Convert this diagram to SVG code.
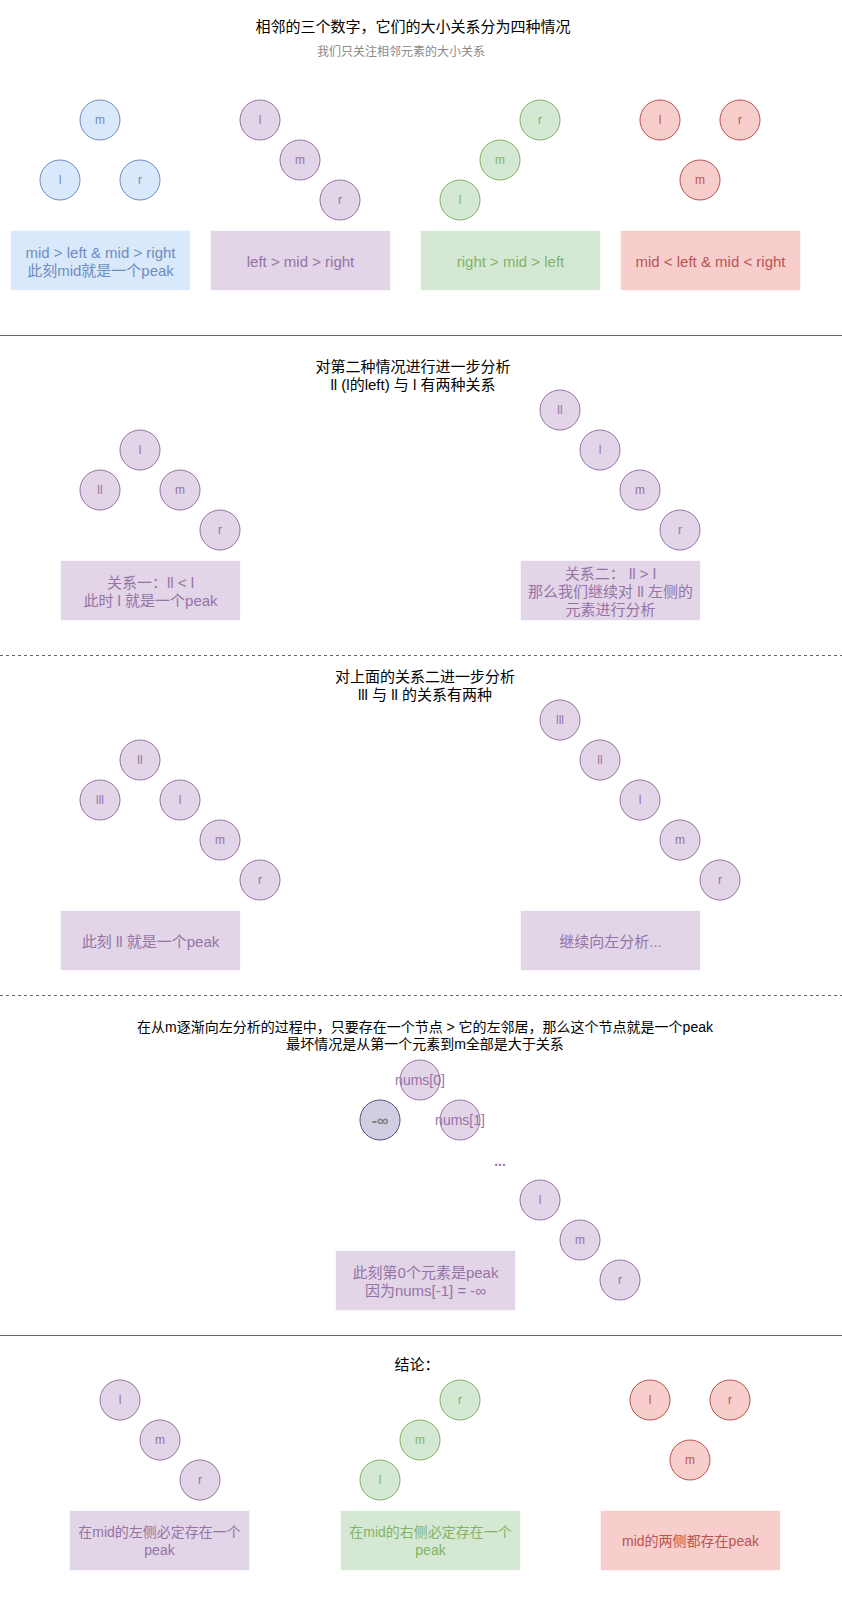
<svg xmlns="http://www.w3.org/2000/svg" width="842" height="1615" viewBox="0 0 842 1615">
<style>
text{font-family:"Liberation Sans",Arial,"Noto Sans CJK SC",sans-serif;text-anchor:middle;dominant-baseline:central}
.t{font-size:15px;fill:#000}
.t14{font-size:14px;fill:#000}
.sub{font-size:12px;fill:#8a8a8a}
.c{font-size:12px}
.bt{font-size:15px}
.bt14{font-size:14px}
.blue circle,.blue rect{fill:#dae8fc}.blue circle{stroke:#6c8ebf}.blue text{fill:#6c8ebf}
.pur circle,.pur rect{fill:#e1d5e7}.pur circle{stroke:#9673a6}.pur text{fill:#9673a6}
.grn circle,.grn rect{fill:#d5e8d4}.grn circle{stroke:#82b366}.grn text{fill:#82b366}
.red circle,.red rect{fill:#f8cecc}.red circle{stroke:#b85450}.red text{fill:#b85450}
.inf circle{fill:#d0cee2;stroke:#56517e}.inf text{fill:#808080;font-weight:bold;font-size:16px}
rect{stroke:#ffffff;stroke-opacity:0.6;stroke-width:1}
circle{stroke-width:1}
.sep{stroke:#666;stroke-width:1}
.dash{stroke:#666;stroke-width:1;stroke-dasharray:3 3}
</style>

<g id="connectors">
<line class="sep" x1="0" y1="335.5" x2="842" y2="335.5"/>
<line class="dash" x1="0" y1="655.5" x2="842" y2="655.5"/>
<line class="dash" x1="0" y1="995.5" x2="842" y2="995.5"/>
<line class="sep" x1="0" y1="1335.5" x2="842" y2="1335.5"/>
</g>

<!-- Section 1 -->
<g id="title1"><text class="t" x="413" y="26">相邻的三个数字，它们的大小关系分为四种情况</text></g>
<g id="subtitle1"><text class="sub" x="401" y="52">我们只关注相邻元素的大小关系</text></g>

<g class="blue">
<g id="s1a-m"><circle cx="100" cy="120" r="20"/><text class="c" x="100" y="120">m</text></g>
<g id="s1a-l"><circle cx="60" cy="180" r="20"/><text class="c" x="60" y="180">l</text></g>
<g id="s1a-r"><circle cx="140" cy="180" r="20"/><text class="c" x="140" y="180">r</text></g>
<g id="s1a-box"><rect x="10.5" y="230.5" width="180" height="60"/><text class="bt" x="100.5" y="252">mid &gt; left &amp; mid &gt; right</text><text class="bt" x="100.5" y="270">此刻mid就是一个peak</text></g>
</g>

<g class="pur">
<g id="s1b-l"><circle cx="260" cy="120" r="20"/><text class="c" x="260" y="120">l</text></g>
<g id="s1b-m"><circle cx="300" cy="160" r="20"/><text class="c" x="300" y="160">m</text></g>
<g id="s1b-r"><circle cx="340" cy="200" r="20"/><text class="c" x="340" y="200">r</text></g>
<g id="s1b-box"><rect x="210.5" y="230.5" width="180" height="60"/><text class="bt" x="300.5" y="261">left &gt; mid &gt; right</text></g>
</g>

<g class="grn">
<g id="s1c-r"><circle cx="540" cy="120" r="20"/><text class="c" x="540" y="120">r</text></g>
<g id="s1c-m"><circle cx="500" cy="160" r="20"/><text class="c" x="500" y="160">m</text></g>
<g id="s1c-l"><circle cx="460" cy="200" r="20"/><text class="c" x="460" y="200">l</text></g>
<g id="s1c-box"><rect x="420.5" y="230.5" width="180" height="60"/><text class="bt" x="510.5" y="261">right &gt; mid &gt; left</text></g>
</g>

<g class="red">
<g id="s1d-l"><circle cx="660" cy="120" r="20"/><text class="c" x="660" y="120">l</text></g>
<g id="s1d-r"><circle cx="740" cy="120" r="20"/><text class="c" x="740" y="120">r</text></g>
<g id="s1d-m"><circle cx="700" cy="180" r="20"/><text class="c" x="700" y="180">m</text></g>
<g id="s1d-box"><rect x="620.5" y="230.5" width="180" height="60"/><text class="bt" x="710.5" y="261">mid &lt; left &amp; mid &lt; right</text></g>
</g>

<!-- Section 2 -->
<g id="title2"><text class="t" x="413" y="366.5">对第二种情况进行进一步分析</text><text class="t" x="413" y="384.5">ll (l的left) 与 l 有两种关系</text></g>

<g class="pur">
<g id="s2a-l"><circle cx="140" cy="450" r="20"/><text class="c" x="140" y="450">l</text></g>
<g id="s2a-ll"><circle cx="100" cy="490" r="20"/><text class="c" x="100" y="490">ll</text></g>
<g id="s2a-m"><circle cx="180" cy="490" r="20"/><text class="c" x="180" y="490">m</text></g>
<g id="s2a-r"><circle cx="220" cy="530" r="20"/><text class="c" x="220" y="530">r</text></g>
<g id="s2a-box"><rect x="60.5" y="560.5" width="180" height="60"/><text class="bt" x="150.5" y="582">关系一：ll &lt; l</text><text class="bt" x="150.5" y="600">此时 l 就是一个peak</text></g>

<g id="s2b-ll"><circle cx="560" cy="410" r="20"/><text class="c" x="560" y="410">ll</text></g>
<g id="s2b-l"><circle cx="600" cy="450" r="20"/><text class="c" x="600" y="450">l</text></g>
<g id="s2b-m"><circle cx="640" cy="490" r="20"/><text class="c" x="640" y="490">m</text></g>
<g id="s2b-r"><circle cx="680" cy="530" r="20"/><text class="c" x="680" y="530">r</text></g>
<g id="s2b-box"><rect x="520.5" y="560.5" width="180" height="60"/><text class="bt" x="610.5" y="573">关系二： ll &gt; l</text><text class="bt" x="610.5" y="591">那么我们继续对 ll 左侧的</text><text class="bt" x="610.5" y="609">元素进行分析</text></g>
</g>

<!-- Section 3 -->
<g id="title3"><text class="t" x="425" y="676.5">对上面的关系二进一步分析</text><text class="t" x="425" y="694.5">lll 与 ll 的关系有两种</text></g>

<g class="pur">
<g id="s3a-ll"><circle cx="140" cy="760" r="20"/><text class="c" x="140" y="760">ll</text></g>
<g id="s3a-lll"><circle cx="100" cy="800" r="20"/><text class="c" x="100" y="800">lll</text></g>
<g id="s3a-l"><circle cx="180" cy="800" r="20"/><text class="c" x="180" y="800">l</text></g>
<g id="s3a-m"><circle cx="220" cy="840" r="20"/><text class="c" x="220" y="840">m</text></g>
<g id="s3a-r"><circle cx="260" cy="880" r="20"/><text class="c" x="260" y="880">r</text></g>
<g id="s3a-box"><rect x="60.5" y="910.5" width="180" height="60"/><text class="bt" x="150.5" y="941">此刻 ll 就是一个peak</text></g>

<g id="s3b-lll"><circle cx="560" cy="720" r="20"/><text class="c" x="560" y="720">lll</text></g>
<g id="s3b-ll"><circle cx="600" cy="760" r="20"/><text class="c" x="600" y="760">ll</text></g>
<g id="s3b-l"><circle cx="640" cy="800" r="20"/><text class="c" x="640" y="800">l</text></g>
<g id="s3b-m"><circle cx="680" cy="840" r="20"/><text class="c" x="680" y="840">m</text></g>
<g id="s3b-r"><circle cx="720" cy="880" r="20"/><text class="c" x="720" y="880">r</text></g>
<g id="s3b-box"><rect x="520.5" y="910.5" width="180" height="60"/><text class="bt" x="610.5" y="941">继续向左分析...</text></g>
</g>

<!-- Section 4 -->
<g id="title4"><text class="t14" x="425" y="1026.5">在从m逐渐向左分析的过程中，只要存在一个节点 &gt; 它的左邻居，那么这个节点就是一个peak</text><text class="t14" x="425" y="1043.5">最坏情况是从第一个元素到m全部是大于关系</text></g>

<g class="inf" id="s4-inf"><circle cx="380" cy="1120" r="20"/><text x="380" y="1120">-∞</text></g>
<g class="pur">
<g id="s4-n0"><circle cx="420" cy="1080" r="20"/><text class="bt14" x="420" y="1080">nums[0]</text></g>
<g id="s4-n1"><circle cx="460" cy="1120" r="20"/><text class="bt14" x="460" y="1120">nums[1]</text></g>
<g id="s4-dots"><text class="bt14" x="500" y="1161" font-weight="bold">...</text></g>
<g id="s4-l"><circle cx="540" cy="1200" r="20"/><text class="c" x="540" y="1200">l</text></g>
<g id="s4-m"><circle cx="580" cy="1240" r="20"/><text class="c" x="580" y="1240">m</text></g>
<g id="s4-r"><circle cx="620" cy="1280" r="20"/><text class="c" x="620" y="1280">r</text></g>
<g id="s4-box"><rect x="335.5" y="1250.5" width="180" height="60"/><text class="bt" x="425.5" y="1272">此刻第0个元素是peak</text><text class="bt" x="425.5" y="1290">因为nums[-1] = -∞</text></g>
</g>

<!-- Section 5 -->
<g id="title5"><text class="t" x="417" y="1364">结论：</text></g>

<g class="pur">
<g id="s5a-l"><circle cx="120" cy="1400" r="20"/><text class="c" x="120" y="1400">l</text></g>
<g id="s5a-m"><circle cx="160" cy="1440" r="20"/><text class="c" x="160" y="1440">m</text></g>
<g id="s5a-r"><circle cx="200" cy="1480" r="20"/><text class="c" x="200" y="1480">r</text></g>
<g id="s5a-box"><rect x="69.5" y="1510.5" width="180" height="60"/><text class="bt14" x="159.5" y="1532">在mid的左侧必定存在一个</text><text class="bt14" x="159.5" y="1550">peak</text></g>
</g>

<g class="grn">
<g id="s5b-r"><circle cx="460" cy="1400" r="20"/><text class="c" x="460" y="1400">r</text></g>
<g id="s5b-m"><circle cx="420" cy="1440" r="20"/><text class="c" x="420" y="1440">m</text></g>
<g id="s5b-l"><circle cx="380" cy="1480" r="20"/><text class="c" x="380" y="1480">l</text></g>
<g id="s5b-box"><rect x="340.5" y="1510.5" width="180" height="60"/><text class="bt14" x="430.5" y="1532">在mid的右侧必定存在一个</text><text class="bt14" x="430.5" y="1550">peak</text></g>
</g>

<g class="red">
<g id="s5c-l"><circle cx="650" cy="1400" r="20"/><text class="c" x="650" y="1400">l</text></g>
<g id="s5c-r"><circle cx="730" cy="1400" r="20"/><text class="c" x="730" y="1400">r</text></g>
<g id="s5c-m"><circle cx="690" cy="1460" r="20"/><text class="c" x="690" y="1460">m</text></g>
<g id="s5c-box"><rect x="600.5" y="1510.5" width="180" height="60"/><text class="bt14" x="690.5" y="1541">mid的两侧都存在peak</text></g>
</g>
</svg>
